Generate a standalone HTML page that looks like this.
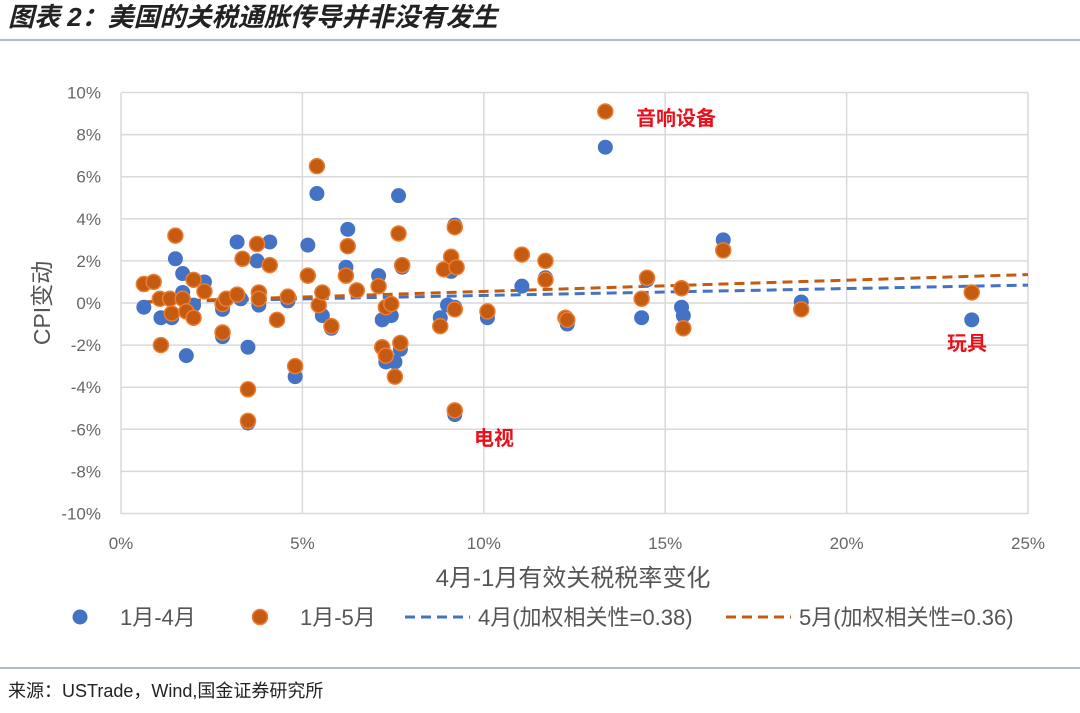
<!DOCTYPE html>
<html><head><meta charset="utf-8"><style>
body{margin:0;background:#fff;width:1080px;height:708px;overflow:hidden;font-family:"Liberation Sans","Noto Sans CJK SC",sans-serif}
svg text{font-family:"Liberation Sans","Noto Sans CJK SC",sans-serif}
</style></head><body>
<svg width="1080" height="708">
<text x="8" y="26" font-size="26" font-weight="bold" font-style="italic" fill="#222">图表 2：美国的关税通胀传导并非没有发生</text>
<line x1="0" y1="40" x2="1080" y2="40" stroke="#8fa7b3" stroke-width="1.5"/>
<g id="grid"></g>
<g id="trend"></g>
<g id="pts"></g>
<g id="axes"></g>
<text x="636" y="125" font-size="20" font-weight="bold" fill="#e8101a">音响设备</text>
<text x="474" y="445" font-size="20" font-weight="bold" fill="#e8101a">电视</text>
<text x="947" y="350" font-size="20" font-weight="bold" fill="#e8101a">玩具</text>
<text x="573" y="586" font-size="24" fill="#555" text-anchor="middle">4月-1月有效关税税率变化</text>
<text transform="translate(50,303) rotate(-90)" font-size="23" fill="#555" text-anchor="middle">CPI变动</text>
<g>
<g><circle cx="80" cy="617" r="7.5" fill="#4472C4"/><text x="120" y="625" font-size="22" fill="#555">1月-4月</text></g>
<g><circle cx="260" cy="617" r="7.5" fill="#C55A11" stroke="#ED7D31" stroke-width="1.5"/><text x="300" y="625" font-size="22" fill="#555">1月-5月</text></g>
<g><line x1="405" y1="617" x2="470" y2="617" stroke="#4472C4" stroke-width="3" stroke-dasharray="10,6"/><text x="478" y="625" font-size="22" fill="#555">4月(加权相关性=0.38)</text></g>
<g><line x1="726" y1="617" x2="791" y2="617" stroke="#C55A11" stroke-width="3" stroke-dasharray="10,6"/><text x="799" y="625" font-size="22" fill="#555">5月(加权相关性=0.36)</text></g>
</g>
<line x1="0" y1="668" x2="1080" y2="668" stroke="#8fa7b3" stroke-width="1.5"/>
<text x="8" y="697" font-size="18" fill="#222">来源：USTrade，Wind,国金证券研究所</text>
</svg>
<script>
const xTicks=[0,5,10,15,20,25];
const yTicks=[-10,-8,-6,-4,-2,0,2,4,6,8,10];
const aprX=[0.63,1.1,1.5,1.7,1.7,1.8,1.4,2.3,2.0,2.8,2.8,3.2,3.3,3.5,3.5,3.75,3.8,4.1,4.3,4.6,4.8,5.15,5.4,5.55,5.8,6.2,6.25,7.1,7.2,7.3,7.45,7.55,7.65,7.7,7.75,8.8,9.0,9.1,9.2,9.2,9.2,10.1,11.05,11.7,12.3,13.35,14.35,14.5,15.45,15.5,16.6,18.75,23.45];
const aprY=[-0.2,-0.7,2.1,1.4,0.5,-2.5,-0.7,1.0,-0.1,-1.6,-0.3,2.9,0.2,-2.1,-5.7,2.0,-0.1,2.9,-0.8,0.1,-3.5,2.75,5.2,-0.6,-1.2,1.7,3.5,1.3,-0.8,-2.8,-0.6,-2.8,5.1,-2.2,1.7,-0.7,-0.1,1.5,3.7,-5.3,-0.2,-0.7,0.8,1.2,-1.0,7.4,-0.7,1.1,-0.2,-0.6,3.0,0.05,-0.8];
const mayX=[0.63,0.9,1.07,1.1,1.35,1.5,1.4,1.7,1.8,2.0,2.0,2.3,2.8,2.8,2.9,3.2,3.35,3.5,3.5,3.75,3.8,3.8,4.1,4.3,4.6,4.8,5.15,5.4,5.45,5.55,5.8,6.2,6.25,6.5,7.1,7.2,7.3,7.3,7.45,7.55,7.65,7.7,7.75,8.8,8.9,9.1,9.25,9.2,9.2,9.2,10.1,11.05,11.7,11.7,12.25,12.3,13.35,14.35,14.5,15.45,15.5,16.6,18.75,23.45];
const mayY=[0.9,1.0,0.2,-2.0,0.2,3.2,-0.5,0.2,-0.4,-0.7,1.1,0.55,-0.05,-1.4,0.2,0.4,2.1,-4.1,-5.6,2.8,0.5,0.2,1.8,-0.8,0.3,-3.0,1.3,6.5,-0.1,0.5,-1.1,1.3,2.7,0.6,0.8,-2.1,-2.5,-0.2,-0.05,-3.5,3.3,-1.9,1.8,-1.1,1.6,2.2,1.7,3.6,-5.1,-0.3,-0.4,2.3,2.0,1.1,-0.7,-0.8,9.1,0.2,1.2,0.7,-1.2,2.5,-0.3,0.5];
const trendX=[0.6,25];
const aprTrendY=[0.05,0.85];
const mayTrendY=[0.05,1.35];
const X=v=>121+v*(1028-121)/25, Y=v=>303-v*(514-93)/20;
const NS="http://www.w3.org/2000/svg";
function mk(tag,attrs,parent){const e=document.createElementNS(NS,tag);for(const k in attrs)e.setAttribute(k,attrs[k]);document.getElementById(parent).appendChild(e);return e;}
yTicks.forEach(t=>{
 const l=mk('line',{x1:121,x2:1028,y1:Y(t),y2:Y(t),stroke:'#d9d9d9','stroke-width':1.5},'grid');
 
 
 const tx=mk('text',{x:101,y:Y(t)+6,'font-size':17,fill:'#666','text-anchor':'end'},'axes');
 tx.textContent=t+'%';
 
 
});
xTicks.forEach(t=>{
 const l=mk('line',{x1:X(t),x2:X(t),y1:93,y2:514,stroke:'#d9d9d9','stroke-width':1.5},'grid');
 
 
 const tx=mk('text',{x:X(t),y:549,'font-size':17,fill:'#666','text-anchor':'middle'},'axes');
 tx.textContent=t+'%';
 
 
});
const ta=mk('line',{x1:X(trendX[0]),x2:X(trendX[1]),y1:Y(aprTrendY[0]),y2:Y(aprTrendY[1]),stroke:'#4472C4','stroke-width':3,'stroke-dasharray':'10,6'},'trend');


const tm=mk('line',{x1:X(trendX[0]),x2:X(trendX[1]),y1:Y(mayTrendY[0]),y2:Y(mayTrendY[1]),stroke:'#C55A11','stroke-width':3,'stroke-dasharray':'10,6'},'trend');


aprX.forEach((x,i)=>{
 const c=mk('circle',{cx:X(x),cy:Y(aprY[i]),r:7.5,fill:'#4472C4'},'pts');
 
 
});
mayX.forEach((x,i)=>{
 const c=mk('circle',{cx:X(x),cy:Y(mayY[i]),r:7.5,fill:'#C55A11',stroke:'#ED7D31','stroke-width':1.5},'pts');
 
 
});
</script>
</body></html>
